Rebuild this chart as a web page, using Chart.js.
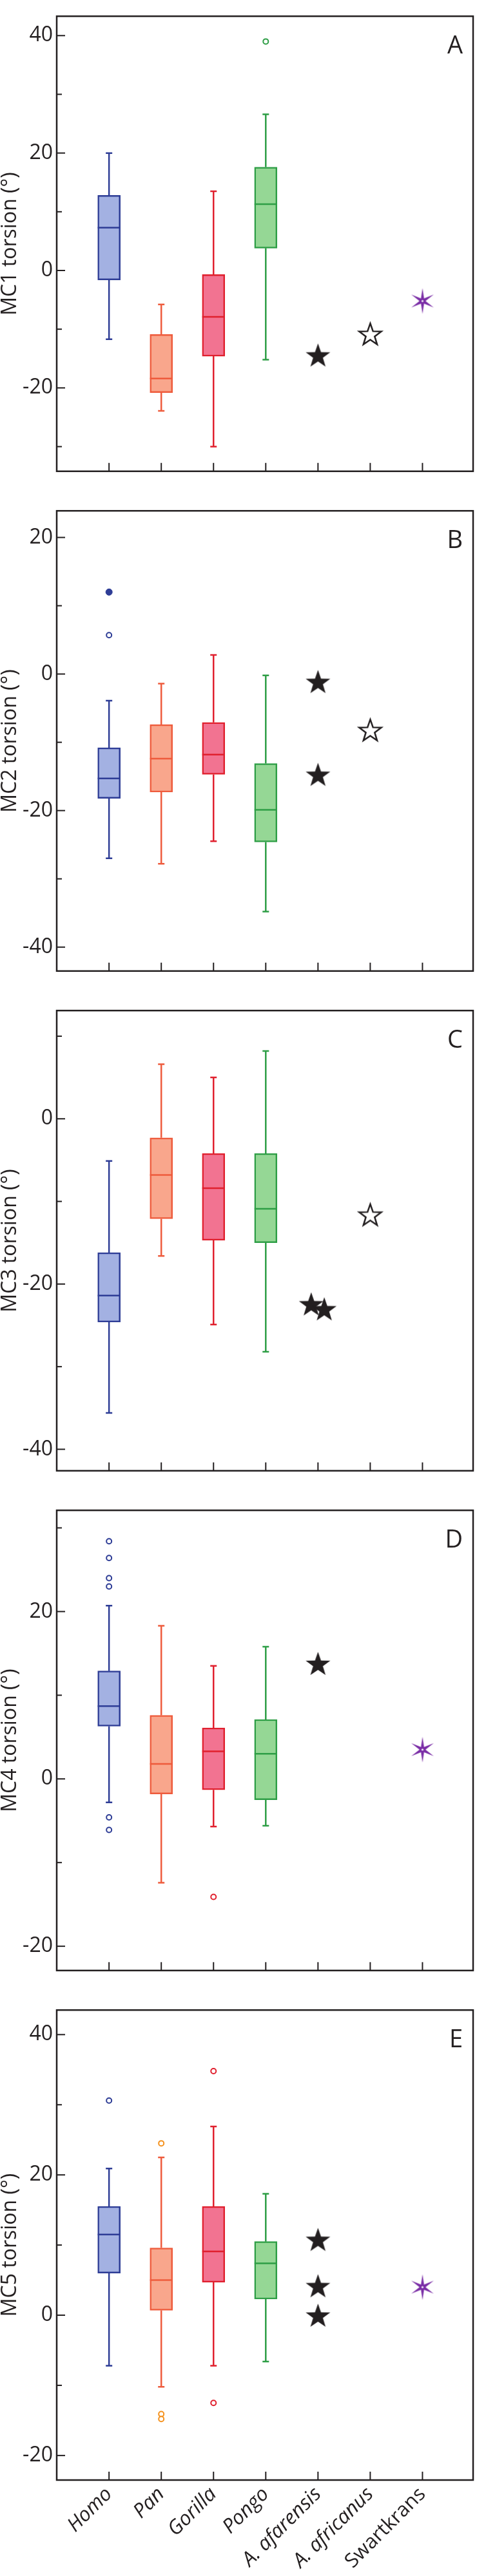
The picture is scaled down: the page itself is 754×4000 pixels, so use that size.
<!DOCTYPE html>
<html>
<head>
<meta charset="utf-8">
<script src="https://cdn.jsdelivr.net/npm/chart.js@4"></script>
<style>
  body { margin: 0; background: #fff; }
  #wrap { position: relative; width: 754px; height: 4000px; }
  #wrap canvas { position: absolute; left: 0; }
</style>
</head>
<body>
<div id="wrap"></div>
<script>
const species = ["Homo", "Pan", "Gorilla", "Pongo", "A. afarensis", "A. africanus", "Swartkrans"];

// box stats per extant genus: [lower whisker, Q1, median, Q3, upper whisker]
const mc1Box = [[-11.7, -1.6, 7.3, 12.8, 20.0], [-23.9, -20.8, -18.4, -10.9, -5.8], [-30.0, -14.6, -7.9, -0.7, 13.5], [-15.2, 3.8, 11.3, 17.6, 26.6]];
const mc2Box = [[-27.0, -18.2, -15.3, -10.8, -3.9], [-27.8, -17.3, -12.4, -7.4, -1.4], [-24.5, -14.7, -11.8, -7.1, 2.8], [-34.8, -24.6, -19.9, -13.1, -0.2]];
const mc3Box = [[-35.6, -24.6, -21.4, -16.2, -5.1], [-16.6, -12.1, -6.8, -2.3, 6.6], [-24.9, -14.7, -8.4, -4.2, 5.0], [-28.2, -15.0, -10.9, -4.2, 8.2]];
const mc4Box = [[-2.8, 6.3, 8.7, 12.9, 20.7], [-12.4, -1.8, 1.8, 7.6, 18.3], [-5.7, -1.3, 3.3, 6.1, 13.5], [-5.6, -2.5, 3.0, 7.1, 15.8]];
const mc5Box = [[-7.2, 6.0, 11.5, 15.5, 20.9], [-10.2, 0.7, 5.0, 9.6, 22.5], [-7.2, 4.7, 9.1, 15.5, 26.9], [-6.6, 2.3, 7.4, 10.5, 17.3]];

// outliers per genus
const mc1Outliers = [[], [], [], [39.0]];
const mc2Outliers = [[5.7], [], [], []];
const mc2OutliersFilled = [[12.0], [], [], []];
const mc3Outliers = [[], [], [], []];
const mc4Outliers = [[28.4, 26.4, 24.0, 23.0, -4.6, -6.1], [], [-14.1], []];
const mc5Outliers = [[30.6], [24.5, -14.1, -14.8], [34.8, -12.5], []];

// fossils
const mc1Afarensis = [-14.4], mc1Africanus = [-10.8], mc1Swartkrans = [-5.2];
const mc2Afarensis = [-1.1, -14.7], mc2Africanus = [-8.2], mc2Swartkrans = [];
const mc3Afarensis = [-22.4, -23.0], mc3Africanus = [-11.6], mc3Swartkrans = [];
const mc4Afarensis = [13.8], mc4Africanus = [], mc4Swartkrans = [3.5];
const mc5Afarensis = [10.8, 4.2, 0.0], mc5Africanus = [], mc5Swartkrans = [4.0];

const ink = "#231f20";
const lines = ["#2e3d96", "#ee5b3c", "#e0202e", "#2e9e46"];
const fills = ["#a3b1e2", "#f9a68c", "#f27391", "#95d795"];
const outColors = ["#2e3d96", "#f5921e", "#e0202e", "#2e9e46"];
const font = "'Open Sans', sans-serif";

function starImage(R, fill, stroke, lw) {
    const size = Math.ceil(2 * R + 2 * lw + 4);
    const c = document.createElement("canvas");
    c.width = c.height = size;
    const g = c.getContext("2d");
    const cx = size / 2, cy = size / 2 + R * 0.095;
    g.beginPath();
    for (let k = 0; k < 10; k++) {
        const r = k % 2 === 0 ? R : R * 0.4;
        const a = -Math.PI / 2 + k * Math.PI / 5;
        g.lineTo(cx + r * Math.cos(a), cy + r * Math.sin(a));
    }
    g.closePath();
    g.fillStyle = fill;
    g.fill();
    if (stroke) {
        g.lineWidth = lw;
        g.lineJoin = "miter";
        g.strokeStyle = stroke;
        g.stroke();
    }
    return c;
}

function asteriskImage(R, color) {
    const size = Math.ceil(2 * R + 6);
    const c = document.createElement("canvas");
    c.width = c.height = size;
    const g = c.getContext("2d");
    const cx = size / 2, cy = size / 2;
    g.fillStyle = color;
    [90, 30, -30].forEach(deg => {
        const a = deg * Math.PI / 180;
        const dx = Math.cos(a), dy = -Math.sin(a);
        const px = -dy, py = dx;
        const w = 3;
        g.beginPath();
        g.moveTo(cx + dx * R, cy + dy * R);
        g.lineTo(cx + px * w, cy + py * w);
        g.lineTo(cx - dx * R, cy - dy * R);
        g.lineTo(cx - px * w, cy - py * w);
        g.closePath();
        g.fill();
    });
    g.fillStyle = "#fff";
    g.beginPath();
    g.arc(cx, cy, 1.6, 0, Math.PI * 2);
    g.fill();
    return c;
}

const starFilled = starImage(20, ink, null, 0);
const starOpen = starImage(18, "#fff", ink, 2.5);
const asterisk = asteriskImage(20, "#7a2da6");

const panels = [
    { letter: "A", title: "MC1 torsion (°)", box: mc1Box, out: mc1Outliers, filled: null, afa: mc1Afarensis, afr: mc1Africanus, swk: mc1Swartkrans, min: -34.2, max: 43.3, top: 2 },
    { letter: "B", title: "MC2 torsion (°)", box: mc2Box, out: mc2Outliers, filled: mc2OutliersFilled, afa: mc2Afarensis, afr: mc2Africanus, swk: mc2Swartkrans, min: -43.5, max: 23.9, top: 778 },
    { letter: "C", title: "MC3 torsion (°)", box: mc3Box, out: mc3Outliers, filled: null, afa: mc3Afarensis, afr: mc3Africanus, swk: mc3Swartkrans, min: -42.6, max: 13.1, top: 1554, jitter: [-0.13, 0.12] },
    { letter: "D", title: "MC4 torsion (°)", box: mc4Box, out: mc4Outliers, filled: null, afa: mc4Afarensis, afr: mc4Africanus, swk: mc4Swartkrans, min: -22.9, max: 32.1, top: 2330 },
    { letter: "E", title: "MC5 torsion (°)", box: mc5Box, out: mc5Outliers, filled: null, afa: mc5Afarensis, afr: mc5Africanus, swk: mc5Swartkrans, min: -23.5, max: 43.5, top: 3106, last: true }
];

// frame, inward tick marks and panel letter
const framePlugin = {
    id: "frame",
    afterDraw(chart, args, opts) {
        const { ctx, chartArea: a, scales } = chart;
        ctx.save();
        ctx.strokeStyle = ink;
        ctx.lineWidth = 2;
        scales.y.ticks.forEach(t => {
            const y = scales.y.getPixelForValue(t.value);
            const len = t.value % 20 === 0 ? 13 : 8;
            ctx.beginPath();
            ctx.moveTo(a.left, y);
            ctx.lineTo(a.left + len, y);
            ctx.stroke();
        });
        scales.x.ticks.forEach(t => {
            const x = scales.x.getPixelForValue(t.value);
            ctx.beginPath();
            ctx.moveTo(x, a.bottom);
            ctx.lineTo(x, a.bottom - 13);
            ctx.stroke();
        });
        ctx.lineWidth = 2.5;
        ctx.strokeRect(a.left, a.top, a.right - a.left, a.bottom - a.top);
        ctx.fillStyle = ink;
        ctx.font = "38px " + font;
        ctx.textAlign = "right";
        ctx.textBaseline = "alphabetic";
        ctx.fillText(opts.letter, a.right - 16, a.top + 58);
        ctx.restore();
    }
};

function buildDatasets(p) {
    const ds = [];
    ds.push({
        type: "bar", order: 3,
        data: p.box.map((b, i) => ({ x: i, y: [b[1], b[3]] })),
        backgroundColor: fills, borderColor: lines, borderWidth: 2.5,
        borderSkipped: false, barThickness: 35
    });
    p.box.forEach((b, i) => {
        ds.push({
            type: "line", order: 2,
            data: [{ x: i, y: b[0] }, { x: i, y: b[1] }, { x: i, y: null }, { x: i, y: b[3] }, { x: i, y: b[4] }],
            borderColor: lines[i], borderWidth: 2.5, spanGaps: false,
            pointStyle: "line", pointRadius: [5, 0, 0, 0, 5],
            pointBorderColor: lines[i], pointBorderWidth: 2.5
        });
    });
    ds.push({
        type: "scatter", order: 1,
        data: p.box.map((b, i) => ({ x: i, y: b[2] })),
        pointStyle: "line", pointRadius: 17.5,
        pointBorderColor: lines, pointBorderWidth: 2.5
    });
    const outPts = [], outCol = [];
    p.out.forEach((vals, i) => vals.forEach(v => { outPts.push({ x: i, y: v }); outCol.push(outColors[i]); }));
    ds.push({
        type: "scatter", order: 0, data: outPts,
        pointStyle: "circle", pointRadius: 4, pointBackgroundColor: "#fff",
        pointBorderColor: outCol, pointBorderWidth: 2
    });
    if (p.filled) {
        const fPts = [], fCol = [];
        p.filled.forEach((vals, i) => vals.forEach(v => { fPts.push({ x: i, y: v }); fCol.push(outColors[i]); }));
        ds.push({
            type: "scatter", order: 0, data: fPts,
            pointStyle: "circle", pointRadius: 5, pointBackgroundColor: fCol,
            pointBorderColor: fCol, pointBorderWidth: 1
        });
    }
    ds.push({
        type: "scatter", order: 0,
        data: p.afa.map((v, k) => ({ x: 4 + (p.jitter ? p.jitter[k] : 0), y: v })),
        pointStyle: starFilled, pointRadius: 10
    });
    ds.push({
        type: "scatter", order: 0,
        data: p.afr.map(v => ({ x: 5, y: v })),
        pointStyle: starOpen, pointRadius: 10
    });
    ds.push({
        type: "scatter", order: 0,
        data: p.swk.map(v => ({ x: 6, y: v })),
        pointStyle: asterisk, pointRadius: 10
    });
    return ds;
}

const wrap = document.getElementById("wrap");

panels.forEach(p => {
    const padTop = Math.min(10, p.top);
    const xHeight = p.last ? 4000 - (p.top + 745) : 0;
    const padBottom = p.last ? 0 : 10;
    const canvas = document.createElement("canvas");
    canvas.width = 754;
    canvas.height = padTop + 745 + xHeight + padBottom;
    canvas.style.top = (p.top - padTop) + "px";
    wrap.appendChild(canvas);

    new Chart(canvas, {
        type: "scatter",
        data: { datasets: buildDatasets(p) },
        options: {
            responsive: false,
            animation: false,
            devicePixelRatio: 1,
            events: [],
            layout: { padding: { left: 0, right: 2, top: padTop, bottom: padBottom } },
            plugins: {
                legend: { display: false },
                tooltip: { enabled: false },
                frame: { letter: p.letter }
            },
            scales: {
                x: {
                    type: "linear", min: -0.432, max: 6.4,
                    grid: { display: false, drawTicks: false },
                    border: { display: false },
                    afterBuildTicks: s => { s.ticks = species.map((_, i) => ({ value: i })); },
                    afterFit: s => { s.height = xHeight; },
                    ticks: {
                        display: !!p.last, autoSkip: false,
                        minRotation: 45, maxRotation: 45, padding: 4, color: ink,
                        font: c => ({ family: font, size: 31, style: c.index < 6 ? "italic" : "normal" }),
                        callback: v => species[v]
                    }
                },
                y: {
                    min: p.min, max: p.max,
                    grid: { display: false, drawTicks: false },
                    border: { display: false },
                    afterBuildTicks: s => {
                        const t = [];
                        for (let v = Math.ceil(p.min / 10) * 10; v <= p.max; v += 10) t.push({ value: v });
                        s.ticks = t;
                    },
                    afterFit: s => { s.width = 88; },
                    ticks: {
                        padding: 6, color: ink,
                        font: { family: font, size: 32 },
                        callback: v => (v % 20 === 0 ? String(v) : "")
                    },
                    title: {
                        display: true, text: p.title, color: ink, padding: 0,
                        font: { family: font, size: 32, lineHeight: 1 }
                    }
                }
            }
        },
        plugins: [framePlugin]
    });
});
</script>
</body>
</html>
